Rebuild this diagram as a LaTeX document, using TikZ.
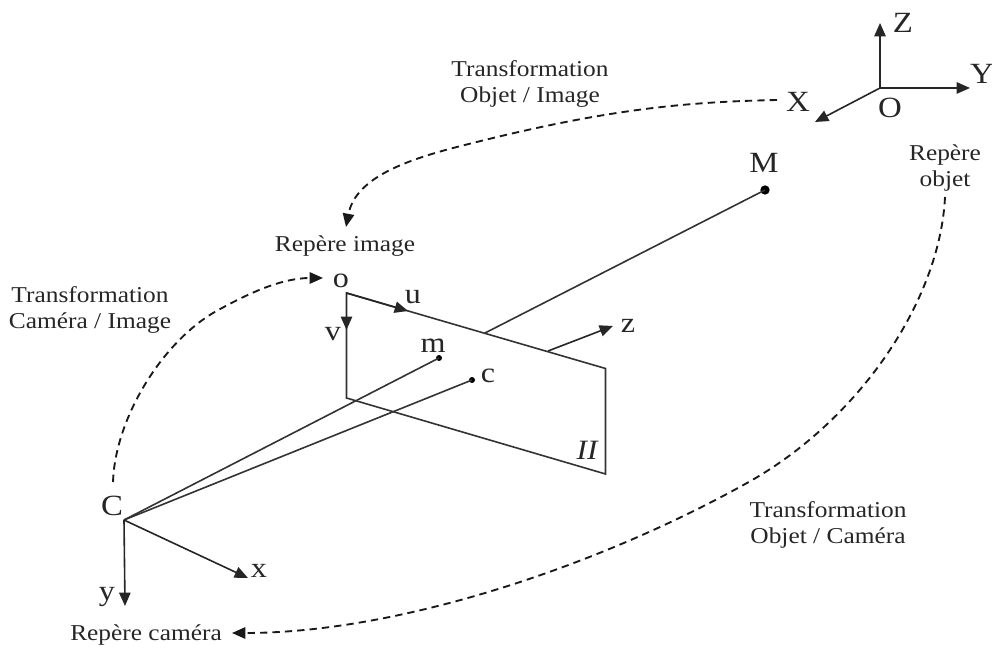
\documentclass[tikz,border=0pt]{standalone}
\usepackage{fontspec}
\setmainfont[FakeStretch=1.12]{Liberation Serif}
\usetikzlibrary{arrows.meta}
\tikzset{
  axis/.style={draw=black!85,line width=1.2pt,-{Triangle[length=10pt,width=8.5pt]}},
  edge/.style={draw=black!80,line width=1.2pt},
  transfer/.style={draw=black!90,line width=1.4pt,dash pattern=on 5.5pt off 3.8pt,-{Triangle[length=10pt,width=8.5pt]}},
  small/.style={font=\fontsize{17}{19.5}\selectfont,align=center,inner sep=0pt,text=black!85},
  big/.style={font=\fontsize{22}{24}\selectfont,inner sep=0pt,text=black!85},
  mid/.style={font=\fontsize{21.5}{24}\selectfont,inner sep=0pt,text=black!85},
  bigdot/.style={circle,fill=black,inner sep=0pt,minimum size=7pt},
  pointdot/.style={circle,fill=black,inner sep=0pt,minimum size=4.5pt}
}
\begin{document}
\begin{tikzpicture}[x=0.75pt,y=-0.75pt]
\useasboundingbox (0,0) rectangle (992,648);
% world frame
\coordinate (O) at (880,88);
\coordinate (Zt) at (880,23);
\coordinate (Yt) at (970,88);
\coordinate (Xt) at (815,122);
\draw[axis] (O) -- (Zt);
\draw[axis] (O) -- (Yt);
\draw[axis] (O) -- (Xt);
\node[big] (lZ) at (903,23) {Z};
\node[big] (lY) at (982,74) {Y};
\node[big] (lX) at (798,102) {X};
\node[big] (lO) at (890,108) {O};
% plane
\coordinate (P1) at (346.5,293);
\coordinate (P2) at (346.5,398);
\coordinate (P3) at (605.5,368.5);
\coordinate (P4) at (605.5,474);
\draw[edge] (P2) -- (P1) -- (P3) -- (P4) -- cycle;
\coordinate (Ut) at (408,311);
\coordinate (Vt) at (346.5,330);
\draw[axis] (P1) -- (Ut);
\draw[axis] (P1) -- (Vt);
\coordinate (Zs) at (548,351);
\coordinate (Zz) at (613,326);
\draw[axis] (Zs) -- (Zz);
\coordinate (Pr) at (485,333);
\node[bigdot] (M) at (765,190) {};
\draw[edge] (Pr) -- (M.center);
\node[pointdot] (m) at (439,358) {};
\node[pointdot] (c) at (472,380) {};
% camera
\coordinate (C) at (124,520);
\coordinate (Xc) at (248,578);
\coordinate (Yc) at (125,606);
\draw[edge] (C) -- (m.center);
\draw[edge] (C) -- (c.center);
\draw[axis] (C) -- (Xc);
\draw[axis] (C) -- (Yc);
\node[big] (lC) at (112,506) {C};
\node[mid] (lx) at (259,571) {x};
\node[mid] (ly) at (107,597) {y};
\node[mid] (lo) at (341,281) {o};
\node[mid] (lu) at (413,297) {u};
\node[mid] (lv) at (333,334) {v};
\node[mid] (lm) at (433,346) {m};
\node[mid] (lc) at (488,376) {c};
\node[mid] (lz) at (628,326) {z};
\node[big] (lM) at (764,163) {M};
\node[big,font=\fontsize{21}{22}\selectfont\itshape] (lPi) at (587,450) {II};
% text labels
\node[small] (t1) at (530,83.5) {Transformation\\Objet / Image};
\node[small] (r1) at (345,246) {Repère image};
\node[small] (t2) at (90,310) {Transformation\\Caméra / Image};
\node[small] (r2) at (945,168) {Repère\\objet};
\node[small] (t3) at (828,525) {Transformation\\Objet / Caméra};
\node[small] (r3) at (146,635) {Repère caméra};
% transformations
\coordinate (a1) at (777,100);
\coordinate (a2) at (346,227);
\draw[transfer] (a1) .. controls (680,102) and (600,110) .. (453,148) .. controls (400,162) and (355,180) .. (a2);
\coordinate (b1) at (113,482);
\coordinate (b2) at (323,278);
\draw[transfer] (b1) .. controls (115,420) and (160,345) .. (213,313) .. controls (245,295) and (280,278) .. (b2);
\coordinate (d1) at (945,197);
\coordinate (d2) at (232,633);
\draw[transfer] (d1) .. controls (940,300) and (860,420) .. (747,483) .. controls (600,565) and (400,633) .. (d2);
\end{tikzpicture}
\end{document}
